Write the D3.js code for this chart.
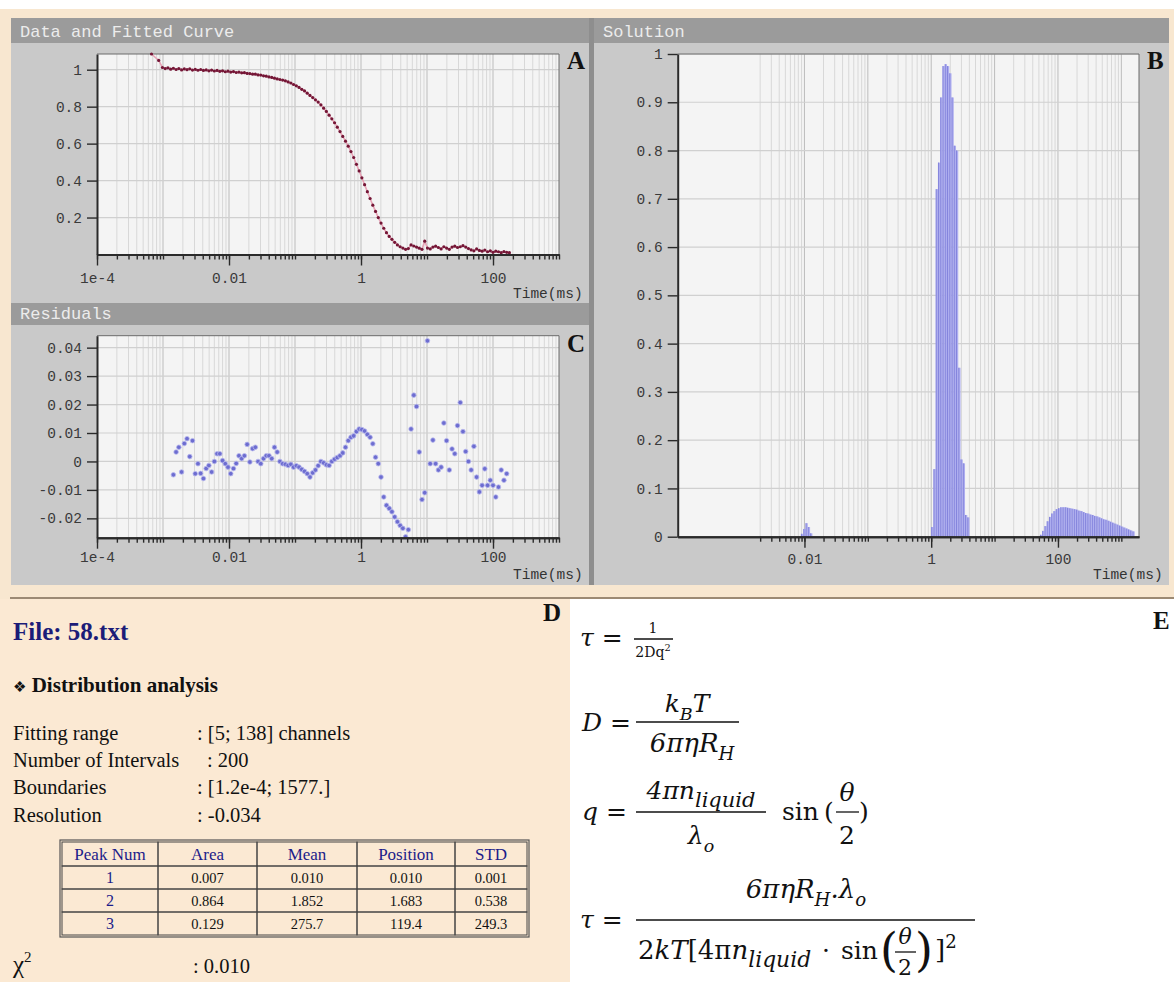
<!DOCTYPE html>
<html>
<head>
<meta charset="utf-8">
<style>
  body { margin: 0; background: #fff; }
</style>
</head>
<body>
<div id="vizDiv"></div>
<script src="https://d3js.org/d3.v7.min.js"></script>
<script>
// ---- data ----
// correlator lag times (ms), shared by panels A and C
const times = [6.70e-4, 8.60e-4, 9.81e-4, 1.079e-3, 1.187e-3, 1.306e-3, 1.436e-3, 1.580e-3, 1.738e-3, 1.912e-3,
  2.103e-3, 2.313e-3, 2.544e-3, 2.799e-3, 3.079e-3, 3.387e-3, 3.725e-3, 4.098e-3, 4.508e-3, 4.958e-3,
  5.454e-3, 6.000e-3, 6.600e-3, 7.260e-3, 7.986e-3, 8.784e-3, 9.663e-3, 1.063e-2, 1.169e-2, 1.286e-2,
  1.415e-2, 1.556e-2, 1.712e-2, 1.883e-2, 2.071e-2, 2.279e-2, 2.507e-2, 2.757e-2, 3.033e-2, 3.336e-2,
  3.670e-2, 4.037e-2, 4.441e-2, 4.885e-2, 5.373e-2, 5.911e-2, 6.502e-2, 7.152e-2, 7.867e-2, 8.654e-2,
  9.519e-2, 0.1047, 0.1152, 0.1267, 0.1394, 0.1533, 0.1686, 0.1855, 0.2040, 0.2244,
  0.2469, 0.2716, 0.2987, 0.3286, 0.3615, 0.3976, 0.4374, 0.4811, 0.5292, 0.5822,
  0.6404, 0.7044, 0.7749, 0.8524, 0.9376, 1.031, 1.134, 1.248, 1.373, 1.510,
  1.661, 1.827, 2.010, 2.211, 2.432, 2.675, 2.943, 3.237, 3.561, 3.917,
  4.308, 4.739, 5.213, 5.734, 6.308, 6.939, 7.633, 8.396, 9.236, 10.16,
  11.18, 12.29, 13.52, 14.88, 16.36, 18.00, 19.80, 21.78, 23.96, 26.35,
  28.99, 31.89, 35.08, 38.58, 42.44, 46.69, 51.36, 56.49, 62.14, 68.36,
  75.19, 82.71, 90.98, 100.1, 110.1, 121.1, 133.2, 146.5, 161.2, 177.3];

// panel A: measured correlation data
const acfValues = [1.085, 1.05, 1.012, 1.006, 1.01, 1.003, 1.008, 1.001, 1.006, 0.999,
  1.004, 1.0, 1.005, 0.998, 1.002, 0.997, 1.001, 0.996, 0.999, 0.994,
  0.998, 0.993, 0.996, 0.991, 0.994, 0.989, 0.992, 0.987, 0.99, 0.985,
  0.987, 0.983, 0.984, 0.98, 0.979, 0.976, 0.976, 0.972, 0.971, 0.967,
  0.965, 0.961, 0.958, 0.954, 0.95, 0.947, 0.944, 0.940, 0.934, 0.928,
  0.920, 0.913, 0.904, 0.894, 0.885, 0.873, 0.861, 0.849, 0.837, 0.825,
  0.810, 0.792, 0.774, 0.754, 0.734, 0.713, 0.689, 0.665, 0.639, 0.613,
  0.586, 0.557, 0.525, 0.488, 0.452, 0.415, 0.378, 0.340, 0.303, 0.267,
  0.233, 0.200, 0.170, 0.142, 0.118, 0.098, 0.082, 0.066, 0.052, 0.042,
  0.035, 0.028, 0.032, 0.052, 0.046, 0.040, 0.034, 0.028, 0.072, 0.035,
  0.030, 0.040, 0.045, 0.038, 0.030, 0.042, 0.035, 0.028, 0.040, 0.045,
  0.038, 0.042, 0.048, 0.040, 0.032, 0.025, 0.020, 0.030, 0.022, 0.018,
  0.024, 0.015, 0.020, 0.012, 0.018, 0.015, 0.010, 0.016, 0.012, 0.010];

// panel C: residuals, starting at lag 1.436e-3 ms (fitting range)
const residStartTime = 1.436e-3;
const residuals = [-0.0047, 0.0033, 0.005, -0.0037, 0.0063, 0.008, 0.0017, 0.0073, -0.0043, -0.0008,
  -0.0042, -0.006, -0.0025, -0.0014, -0.0037, 0.0, 0.0027, 0.0027, 0.0003, -0.0008,
  -0.002, -0.0043, -0.0025, -0.0007, 0.002, 0.001, 0.002, 0.006, -0.0002, 0.0045,
  0.005, 0.0, -0.0008, 0.001, 0.002, 0.002, 0.001, 0.005, 0.0033, 0.0,
  -0.0008, -0.001, -0.0014, -0.001, -0.002, -0.0015, -0.002, -0.0028, -0.0035, -0.0043,
  -0.0055, -0.004, -0.003, -0.0015, 0.0, -0.0005, -0.0012, -0.0014, 0.0, 0.0008,
  0.0014, 0.002, 0.003, 0.005, 0.0073, 0.0085, 0.009, 0.0105, 0.0114, 0.0112,
  0.0107, 0.0095, 0.0085, 0.0062, 0.0015, -0.0008, -0.0055, -0.0125, -0.0154, -0.0165,
  -0.0177, -0.0195, -0.0212, -0.0225, -0.0235, -0.0265, -0.024, 0.0114, 0.0233, 0.0193,
  0.0033, -0.0134, -0.011, 0.0424, -0.0008, 0.0075, -0.0008, -0.003, -0.002, 0.0135,
  0.0073, -0.003, 0.0044, 0.0027, 0.0126, 0.0207, 0.0105, 0.0035, 0.0, -0.003,
  0.0053, -0.0055, -0.0107, -0.0084, -0.0026, -0.0084, -0.0066, -0.0084, -0.0125, -0.009,
  -0.003, -0.0066, -0.0043];

// panel B: solution bins (left edge, ms) and amplitudes, non-zero bins only
const binRatio = 1.0854;
const solTimes = [0.0088, 0.0096, 0.0104, 0.0113, 0.0123,
  1.0, 1.085, 1.178, 1.279, 1.388, 1.506, 1.635, 1.775, 1.926, 2.091, 2.269, 2.463, 2.673, 2.901, 3.149, 3.418, 3.71,
  52.0, 56.4, 61.3, 66.5, 72.2, 78.3, 85.0, 92.3, 100.2, 108.7, 118.0, 128.1, 139.0, 150.9, 163.8, 177.8, 193.0, 209.4,
  227.3, 246.7, 267.8, 290.7, 315.5, 342.4, 371.7, 403.4, 437.9, 475.3, 515.9, 560.0, 607.8, 659.7, 716.1, 777.2,
  843.6, 915.7, 993.9, 1078.8, 1170.9, 1270.9, 1379.5, 1497.3];
const solValues = [0.006, 0.016, 0.028, 0.02, 0.007,
  0.02, 0.14, 0.72, 0.775, 0.91, 0.975, 0.979, 0.975, 0.96, 0.91, 0.81, 0.80, 0.35, 0.16, 0.152, 0.045, 0.04,
  0.004, 0.012, 0.022, 0.032, 0.041, 0.048, 0.053, 0.057, 0.059, 0.061, 0.061, 0.061, 0.060, 0.059, 0.058, 0.057, 0.056, 0.054,
  0.053, 0.051, 0.049, 0.048, 0.046, 0.045, 0.043, 0.042, 0.040, 0.038, 0.036, 0.035, 0.033, 0.031, 0.029, 0.027,
  0.025, 0.023, 0.021, 0.019, 0.017, 0.015, 0.013, 0.011];

// tick labels
const xMajorTicks = [1e-4, 0.01, 1, 100];
const xMajorLabels = ["1e-4", "0.01", "1", "100"];
const xMajorTicksB = [0.01, 1, 100];
const xMajorLabelsB = ["0.01", "1", "100"];
const yTicksA = [0.2, 0.4, 0.6, 0.8, 1];
const yLabelsA = ["0.2", "0.4", "0.6", "0.8", "1"];
const yTicksC = [-0.02, -0.01, 0, 0.01, 0.02, 0.03, 0.04];
const yLabelsC = ["-0.02", "-0.01", "0", "0.01", "0.02", "0.03", "0.04"];
const yTicksB = [0, 0.1, 0.2, 0.3, 0.4, 0.5, 0.6, 0.7, 0.8, 0.9, 1];
const yLabelsB = ["0", "0.1", "0.2", "0.3", "0.4", "0.5", "0.6", "0.7", "0.8", "0.9", "1"];

// report text
const infoLabels = ["Fitting range", "Number of Intervals", "Boundaries", "Resolution"];
const infoValues = [": [5; 138] channels", ": 200", ": [1.2e-4; 1577.]", ": -0.034"];
const tableHeader = ["Peak Num", "Area", "Mean", "Position", "STD"];
const peakNum = ["1", "2", "3"];
const peakArea = ["0.007", "0.864", "0.129"];
const peakMean = ["0.010", "1.852", "275.7"];
const peakPos = ["0.010", "1.683", "119.4"];
const peakStd = ["0.001", "0.538", "249.3"];

const mono = '"Liberation Mono", "Courier New", monospace';
const serif = '"Liberation Serif", "Times New Roman", serif';
const mathFont = '"DejaVu Serif", serif';

const svg = d3.select("#vizDiv").append("svg")
  .attr("width", 1174).attr("height", 982);

// ---- backgrounds ----
svg.append("rect").attr("width", 1174).attr("height", 982).attr("fill", "#fff");
svg.append("rect").attr("x", 0).attr("y", 9).attr("width", 1174).attr("height", 590).attr("fill", "#f8e7d0");
svg.append("rect").attr("x", 0).attr("y", 599).attr("width", 570).attr("height", 383).attr("fill", "#fbe9d3");
svg.append("line").attr("x1", 10).attr("x2", 1174).attr("y1", 598).attr("y2", 598)
  .attr("stroke", "#9c8a74").attr("stroke-width", 2);

svg.append("rect").attr("x", 11).attr("y", 18).attr("width", 1158).attr("height", 567).attr("fill", "#c9c9c9");
svg.append("rect").attr("x", 589).attr("y", 18).attr("width", 5).attr("height", 567).attr("fill", "#8e8e8e");

const bars = [
  { x: 11, y: 18, w: 578, h: 25, title: "Data and Fitted Curve", ty: 37 },
  { x: 11, y: 303, w: 578, h: 22, title: "Residuals", ty: 319 },
  { x: 594, y: 18, w: 575, h: 25, title: "Solution", ty: 37 }
];
bars.forEach(b => {
  svg.append("rect").attr("x", b.x).attr("y", b.y).attr("width", b.w).attr("height", b.h).attr("fill", "#9b9b9b");
  svg.append("text").attr("x", b.x + 9).attr("y", b.ty).text(b.title)
    .attr("font-family", mono).attr("font-size", 17).attr("fill", "#ececec");
});

// ---- scales ----
const xA = d3.scaleLog().domain([1e-4, 1e3]).range([97, 559]);
const yA = d3.scaleLinear().domain([0, 1.085]).range([254.5, 54]);
const xC = d3.scaleLog().domain([1e-4, 1e3]).range([97, 559]);
const yC = d3.scaleLinear().domain([-0.0268, 0.0442]).range([537.7, 335.7]);
const xB = d3.scaleLog().domain([1e-4, 1900]).range([677.7, 1139]);
const yB = d3.scaleLinear().domain([0, 1]).range([536.7, 54]);

function logTicks(lo, hi) {
  const out = [];
  for (let e = -4; e <= 3; e++) {
    for (let m = 1; m <= 9; m++) {
      const v = m * Math.pow(10, e);
      if (v >= lo * 0.999 && v <= hi) out.push(v);
    }
  }
  return out;
}
function isDecade(d) {
  const l = Math.log10(d);
  return Math.abs(l - Math.round(l)) < 1e-9;
}

function drawFrame(x, y, gridX, yTicks) {
  const [xl, xr] = x.range();
  const [yb, yt] = y.range();
  const g = svg.append("g");
  g.append("rect").attr("x", xl).attr("y", yt).attr("width", xr - xl).attr("height", yb - yt).attr("fill", "#f4f4f4");
  g.append("g").selectAll("line").data(gridX).join("line")
    .attr("x1", d => x(d)).attr("x2", d => x(d)).attr("y1", yt).attr("y2", yb)
    .attr("stroke", d => isDecade(d) ? "#bcbcbc" : "#d8d8d8").attr("stroke-width", 1);
  g.append("g").selectAll("line").data(yTicks).join("line")
    .attr("x1", xl).attr("x2", xr).attr("y1", d => y(d)).attr("y2", d => y(d))
    .attr("stroke", "#d0d0d0").attr("stroke-width", 1.2);
  g.append("path").attr("d", `M${xl},${yt}H${xr}V${yb}`).attr("fill", "none").attr("stroke", "#6a6a6a");
  return g;
}

function styleAxis(sel) {
  sel.select(".domain").attr("stroke", "#2a2a2a").attr("stroke-width", 2);
  sel.selectAll(".tick line").attr("stroke", "#2a2a2a").attr("stroke-width", 1.4);
  sel.selectAll(".tick text").attr("font-family", mono).attr("font-size", 14.5).attr("fill", "#3a3a3a");
}

function drawAxes(x, y, minorX, majorX, majorLabels, yTicks, yLabels, padX, timeY) {
  const [xl, xr] = x.range();
  const [yb, yt] = y.range();
  svg.append("g").attr("transform", `translate(0,${yb})`)
    .call(d3.axisBottom(x).tickValues(minorX).tickSize(5).tickSizeOuter(0).tickFormat(""))
    .call(styleAxis);
  svg.append("g").attr("transform", `translate(0,${yb})`)
    .call(d3.axisBottom(x).tickValues(majorX).tickSize(11).tickSizeOuter(0).tickPadding(padX)
      .tickFormat((d, i) => majorLabels[i]))
    .call(styleAxis);
  svg.append("g").attr("transform", `translate(${xl},0)`)
    .call(d3.axisLeft(y).tickValues(yTicks).tickSize(10).tickSizeOuter(0).tickPadding(5)
      .tickFormat((d, i) => yLabels[i]))
    .call(styleAxis);
  svg.append("text").attr("x", xr - 46).attr("y", timeY).text("Time(ms)")
    .attr("font-family", mono).attr("font-size", 14.5).attr("fill", "#333");
}

// ---- panel A ----
const gridAC = logTicks(1e-4, 1e3).filter(d => d > 1e-4 && d < 1e3);
drawFrame(xA, yA, gridAC, yTicksA);
const acf = times.map((t, i) => ({ t: t, v: acfValues[i] }));
svg.append("path").datum(acf)
  .attr("d", d3.line().x(d => xA(d.t)).y(d => yA(d.v)))
  .attr("fill", "none").attr("stroke", "#e7a3b6").attr("stroke-width", 1.6);
svg.append("g").selectAll("circle").data(acf).join("circle")
  .attr("cx", d => xA(d.t)).attr("cy", d => yA(d.v)).attr("r", 1.6)
  .attr("fill", "#741636");
drawAxes(xA, yA, logTicks(1e-4, 1e3), xMajorTicks, xMajorLabels, yTicksA, yLabelsA, 7, 298);

// ---- panel C ----
drawFrame(xC, yC, gridAC, yTicksC);
const r0 = times.indexOf(residStartTime);
const resid = residuals.map((v, i) => ({ t: times[r0 + i], v: v })).filter(d => d.t !== undefined);
svg.append("g").selectAll("circle").data(resid).join("circle")
  .attr("cx", d => xC(d.t)).attr("cy", d => yC(d.v)).attr("r", 2.3)
  .attr("fill", "#6d6dd0").attr("stroke", "#b8b8ee").attr("stroke-width", 0.8);
drawAxes(xC, yC, logTicks(1e-4, 1e3), xMajorTicks, xMajorLabels, yTicksC, yLabelsC, 3, 579);

// ---- panel B ----
const gridB = logTicks(2e-3, 1900);
drawFrame(xB, yB, gridB, yTicksB.filter(d => d > 0));
const sol = solTimes.map((t, i) => ({ t: t, v: solValues[i] }));
const gb = svg.append("g");
gb.selectAll("rect").data(sol).join("rect")
  .attr("x", d => xB(d.t)).attr("width", d => xB(d.t * binRatio) - xB(d.t))
  .attr("y", d => yB(d.v)).attr("height", d => yB(0) - yB(d.v))
  .attr("fill", "#aeaeef");
gb.selectAll("line").data(sol).join("line")
  .attr("x1", d => xB(d.t) + 0.5).attr("x2", d => xB(d.t) + 0.5)
  .attr("y1", d => yB(d.v)).attr("y2", yB(0))
  .attr("stroke", "#8080da").attr("stroke-width", 0.9);
drawAxes(xB, yB, gridB, xMajorTicksB, xMajorLabelsB, yTicksB, yLabelsB, 6, 579);

// panel letters
[["A", 567, 69], ["C", 567, 352], ["B", 1147, 69], ["D", 543, 621], ["E", 1153, 629]].forEach(l => {
  svg.append("text").attr("x", l[1]).attr("y", l[2]).text(l[0])
    .attr("font-family", serif).attr("font-weight", "bold").attr("font-size", 25).attr("fill", "#111");
});

// ---- panel D: report ----
svg.append("text").attr("x", 13).attr("y", 640).text("File: 58.txt")
  .attr("font-family", serif).attr("font-weight", "bold").attr("font-size", 25).attr("fill", "#1c1c78");
svg.append("text").attr("x", 13).attr("y", 692)
  .attr("font-family", serif).attr("font-weight", "bold").attr("font-size", 21).attr("fill", "#111")
  .call(t => {
    t.append("tspan").attr("font-family", '"DejaVu Sans", sans-serif').attr("font-size", 15).text("❖");
    t.append("tspan").text(" Distribution analysis");
  });
const infoY = [740, 767, 794, 822];
const infoX = [197, 207, 197, 197];
infoLabels.forEach((s, i) => {
  svg.append("text").attr("x", 13).attr("y", infoY[i]).text(s)
    .attr("font-family", serif).attr("font-size", 20.5).attr("fill", "#111");
  svg.append("text").attr("x", infoX[i]).attr("y", infoY[i]).text(infoValues[i])
    .attr("font-family", serif).attr("font-size", 20.5).attr("fill", "#111");
});

// table
const colX = [62, 158, 257, 357, 455, 527];
const rowY = [842, 866, 889, 912, 935];
const tableRows = [tableHeader].concat(peakNum.map((p, i) => [p, peakArea[i], peakMean[i], peakPos[i], peakStd[i]]));
const tg = svg.append("g");
tg.append("rect").attr("x", colX[0] - 2).attr("y", rowY[0] - 2)
  .attr("width", colX[5] - colX[0] + 4).attr("height", rowY[4] - rowY[0] + 4)
  .attr("fill", "none").attr("stroke", "#555").attr("stroke-width", 1.2);
tableRows.forEach((row, r) => {
  row.forEach((s, c) => {
    tg.append("rect").attr("x", colX[c]).attr("y", rowY[r])
      .attr("width", colX[c + 1] - colX[c]).attr("height", rowY[r + 1] - rowY[r])
      .attr("fill", "none").attr("stroke", "#444").attr("stroke-width", 1);
    tg.append("text").attr("x", (colX[c] + colX[c + 1]) / 2).attr("y", rowY[r] + (r === 0 ? 18 : 17))
      .attr("text-anchor", "middle").text(s)
      .attr("font-family", serif).attr("font-size", r === 0 ? 17 : (c === 0 ? 16 : 14.5))
      .attr("fill", (r === 0 || c === 0) ? "#1c1c8a" : "#111");
  });
});

svg.append("text").attr("x", 13).attr("y", 973)
  .attr("font-family", serif).attr("font-size", 25).attr("fill", "#111")
  .call(t => {
    t.append("tspan").text("χ");
    t.append("tspan").attr("dy", -11).attr("font-size", 15).text("2");
  });
svg.append("text").attr("x", 193).attr("y", 973).text(": 0.010")
  .attr("font-family", serif).attr("font-size", 20.5).attr("fill", "#111");

// ---- panel E: formulas ----
// parts: [text, kind]; kind: "i" italic, "n" upright, "_" subscript, "^" superscript, "L" larger subscript
function mathText(x, y, parts, size, anchor) {
  const t = svg.append("text").attr("x", x).attr("y", y)
    .attr("font-family", mathFont).attr("font-size", size)
    .attr("text-anchor", anchor || "start").attr("fill", "#111");
  let shift = 0;
  parts.forEach(p => {
    const kind = p[1];
    const sub = kind.includes("_");
    const small = sub || kind.includes("^");
    const target = sub ? size * 0.3 : kind.includes("^") ? -size * 0.42 : 0;
    const scale = kind.includes("L") ? 0.84 : 0.7;
    t.append("tspan").attr("dy", target - shift)
      .attr("font-size", small ? size * scale : size)
      .attr("font-style", kind.includes("i") ? "italic" : "normal")
      .text(p[0]);
    shift = target;
  });
  return t;
}
function fracBar(x1, x2, y) {
  svg.append("line").attr("x1", x1).attr("x2", x2).attr("y1", y).attr("y2", y)
    .attr("stroke", "#111").attr("stroke-width", 1.3);
}

// tau = 1 / 2Dq^2
mathText(580, 646, [["τ", "i"], [" =", "n"]], 25);
mathText(653, 633, [["1", "n"]], 14, "middle");
fracBar(634, 673, 639);
mathText(653, 657, [["2Dq", "n"], ["2", "^"]], 14, "middle");

// D = kB T / 6 pi eta RH
mathText(582, 731, [["D", "i"], [" =", "n"]], 25);
mathText(687, 712, [["k", "i"], ["B", "_i"], ["T", "i"]], 25, "middle");
fracBar(636, 739, 722);
mathText(692, 752, [["6πη", "i"], ["R", "i"], ["H", "_i"]], 26, "middle");

// q = 4 pi n / lambda sin(theta/2)
mathText(582, 820, [["q", "i"], [" =", "n"]], 25);
mathText(701, 799, [["4π", "i"], ["n", "i"], ["liquid", "_iL"]], 25, "middle");
fracBar(636, 766, 812);
mathText(701, 844, [["λ", "i"], ["o", "_i"]], 25, "middle");
mathText(782, 820, [["sin", "n"]], 25);
mathText(824, 820, [["(", "n"]], 25);
mathText(847, 801, [["θ", "i"]], 25, "middle");
fracBar(836, 859, 812);
mathText(847, 844, [["2", "n"]], 25, "middle");
mathText(859, 820, [[")", "n"]], 25);

// tau = 6 pi eta RH lambda / 2kT[4 pi n sin(theta/2)]^2
mathText(580, 928, [["τ", "i"], [" =", "n"]], 25);
mathText(806, 898, [["6πη", "i"], ["R", "i"], ["H", "_i"], [".λ", "i"], ["o", "_i"]], 26, "middle");
fracBar(636, 975, 920);
mathText(638, 959, [["2", "n"], ["kT", "i"], ["[4π", "n"], ["n", "i"], ["liquid", "_iL"]], 26);
mathText(822, 959, [["·", "n"]], 25);
mathText(841, 959, [["sin", "n"]], 25);
svg.append("text").attr("x", 880).attr("y", 966).text("(")
  .attr("font-family", mathFont).attr("font-size", 46).attr("fill", "#111");
mathText(905, 944, [["θ", "i"]], 22, "middle");
fracBar(895, 916, 952);
mathText(905, 975, [["2", "n"]], 22, "middle");
svg.append("text").attr("x", 915).attr("y", 966).text(")")
  .attr("font-family", mathFont).attr("font-size", 46).attr("fill", "#111");
mathText(935, 959, [["]", "n"], ["2", "^"]], 26);
</script>
</body>
</html>
